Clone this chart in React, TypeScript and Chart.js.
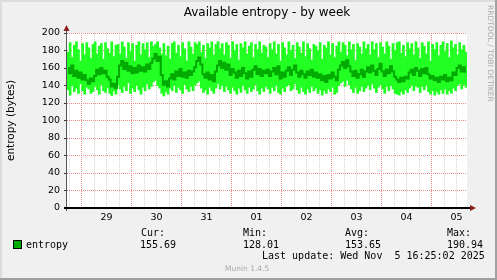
import React, { useEffect, useRef } from 'react';
import { Chart, registerables } from 'chart.js';

Chart.register(...registerables);

// ---- data ----
const titleText = 'Available entropy - by week';
const yAxisTitle = 'entropy (bytes)';
const dayLabels = ['29', '30', '31', '01', '02', '03', '04', '05'];
const startHour = -7; // hours relative to 29 Oct 00:00
const endHour = 185;
const sampleStepHours = 1;

const avgValues = [
  160, 154, 163, 151, 157, 149, 155, 147, 152, 146, 142, 148, 145, 151, 158, 153, 160, 154, 157, 150, 147, 139, 142, 137,
  150, 163, 168, 159, 166, 157, 162, 154, 160, 155, 163, 157, 161, 156, 164, 159, 166, 171, 176, 168, 173, 152, 141, 145,
  139, 148, 153, 147, 156, 151, 159, 150, 155, 149, 157, 152, 156, 161, 168, 172, 164, 153, 149, 155, 147, 152, 145, 156,
  163, 168, 160, 166, 158, 164, 152, 159, 155, 149, 157, 151, 160, 154, 148, 156, 150, 158, 162, 153, 159, 151, 157, 154,
  158, 151, 156, 160, 153, 162, 148, 155, 150, 157, 161, 152, 158, 163, 155, 150, 157, 153, 149, 156, 152, 158, 150, 155,
  149, 153, 146, 151, 144, 152, 148, 155, 150, 146, 158, 163, 167, 160, 169, 162, 156, 151, 157, 149, 153, 158, 150, 156,
  161, 155, 163, 157, 152, 159, 165, 156, 151, 158, 154, 162, 156, 150, 147, 144, 149, 145, 150, 148, 155, 158, 152, 160,
  157, 151, 159, 154, 160, 153, 148, 151, 146, 149, 144, 150, 147, 152, 145, 149, 146, 155, 152, 160, 163, 156, 161, 155.69,
];
const maxValues = [
  178, 189, 172, 186, 190, 181, 168, 188, 175, 189, 183, 171, 187, 190, 176, 185, 188, 170, 189, 182, 177, 190, 173, 186,
  187, 176, 190, 184, 171, 189, 179, 188, 168, 186, 190, 175, 188, 181, 189, 172, 190, 185, 187, 190, 183, 176, 188, 174,
  185, 170, 188, 190, 177, 186, 173, 189, 182, 168, 190, 184, 176, 189, 187, 190, 178, 186, 171, 188, 183, 190, 175, 187,
  190, 182, 188, 175, 189, 186, 171, 190, 180, 187, 169, 188, 183, 190, 176, 185, 189, 172, 187, 181, 190, 177, 186, 184,
  172, 188, 181, 190, 176, 187, 168, 189, 183, 175, 190, 180, 186, 171, 189, 184, 177, 190, 173, 188, 182, 169, 187, 185,
  180, 189, 170, 186, 183, 190, 175, 188, 172, 185, 190, 178, 189, 186, 174, 190, 181, 187, 169, 188, 184, 176, 190, 182,
  187, 175, 190, 181, 188, 172, 189, 184, 176, 190, 185, 170, 188, 180, 189, 190, 177, 186, 173, 189, 182, 188, 175, 190,
  183, 171, 189, 185, 176, 190, 168, 187, 181, 189, 174, 186, 190, 179, 188, 172, 190.94, 183, 187, 175, 189, 181, 186, 178,
];
const minValues = [
  135, 129, 140, 133, 137, 131, 142, 134, 130, 138, 136, 131, 133, 139, 135, 130, 141, 134, 132, 137, 131, 128.5, 134, 130,
  141, 136, 132, 139, 134, 143, 131, 137, 133, 140, 135, 130, 138, 134, 142, 136, 139, 144, 146, 140, 137, 131, 128.01, 133,
  130, 137, 134, 140, 132, 138, 135, 131, 141, 136, 133, 139, 134, 140, 143, 145, 137, 132, 135, 130, 138, 134, 131, 137,
  142, 136, 140, 133, 139, 135, 131, 138, 134, 130, 137, 132, 140, 135, 131, 138, 133, 136, 141, 134, 130, 137, 133, 139,
  136, 131, 138, 134, 140, 132, 130, 137, 133, 139, 141, 134, 136, 142, 135, 131, 138, 133, 130, 136, 132, 139, 134, 137,
  131, 135, 129, 134, 131, 136, 133, 138, 130, 132, 140, 143, 145, 139, 146, 141, 136, 132, 138, 131, 134, 139, 133, 137,
  140, 135, 142, 137, 132, 138, 141, 136, 131, 139, 134, 140, 136, 131, 130, 129, 133, 130, 135, 132, 137, 140, 134, 139,
  138, 132, 139, 135, 140, 133, 130, 134, 129, 133, 130, 135, 131, 136, 130, 134, 131, 137, 134, 140, 142, 136, 141, 138,
];

const seriesName = 'entropy';
const statLabels = ['Cur:', 'Min:', 'Avg:', 'Max:'];
const statValues = ['155.69', '128.01', '153.65', '190.94'];
const lastUpdate = 'Last update: Wed Nov  5 16:25:02 2025';
const footerText = 'Munin 1.4.5';
const sideText = 'RRDTOOL / TOBI OETIKER';

const W = 497;
const H = 280;
const PLOT_LEFT = 67;
const PLOT_TOP = 33;
const PLOT_RIGHT = 467;
const PLOT_BOTTOM = 208;

const RED_GRID = 'rgb(235,140,140)';
const GRAY_GRID = '#d2d2d2';

const framePlugin = {
  id: 'muninFrame',
  beforeDraw(chart: any) {
    const { ctx, width, height, chartArea: a } = chart;
    ctx.save();
    ctx.fillStyle = '#f0f0f0';
    ctx.fillRect(0, 0, width, height);
    ctx.fillStyle = '#dcdcdc';
    ctx.fillRect(0, 0, width, 2);
    ctx.fillRect(0, 0, 2, height);
    ctx.fillStyle = '#a0a0a0';
    ctx.fillRect(0, height - 2, width, 2);
    ctx.fillRect(width - 2, 0, 2, height);
    ctx.fillStyle = '#ffffff';
    ctx.fillRect(a.left, a.top, a.right - a.left, a.bottom - a.top);
    ctx.restore();
  },
  afterDraw(chart: any) {
    const { ctx, chartArea: a } = chart;
    ctx.save();
    ctx.setLineDash([]);
    // axes
    ctx.strokeStyle = '#555';
    ctx.lineWidth = 1;
    ctx.beginPath();
    ctx.moveTo(a.left - 0.5, a.bottom + 3);
    ctx.lineTo(a.left - 0.5, a.top - 4);
    ctx.stroke();
    ctx.beginPath();
    ctx.moveTo(a.left - 3, a.bottom);
    ctx.lineTo(a.right + 3, a.bottom);
    ctx.strokeStyle = '#000';
    ctx.lineWidth = 2;
    ctx.stroke();
    // arrows
    ctx.fillStyle = '#8b1c1c';
    ctx.beginPath();
    ctx.moveTo(a.left - 0.5, a.top - 8);
    ctx.lineTo(a.left - 3.5, a.top - 2);
    ctx.lineTo(a.left + 2.5, a.top - 2);
    ctx.closePath();
    ctx.fill();
    ctx.beginPath();
    ctx.moveTo(a.right + 9, a.bottom);
    ctx.lineTo(a.right + 3, a.bottom - 3);
    ctx.lineTo(a.right + 3, a.bottom + 3);
    ctx.closePath();
    ctx.fill();
    ctx.restore();
  },
};

export default function App() {
  const canvasRef = useRef<HTMLCanvasElement | null>(null);

  useEffect(() => {
    const canvas = canvasRef.current;
    if (!canvas) return;
    const times = avgValues.map((_, i) => startHour + sampleStepHours * i + sampleStepHours / 2);
    const chart = new Chart(canvas, {
      type: 'bar',
      data: {
        datasets: [
          {
            type: 'line',
            label: seriesName,
            data: times.map((t, i) => ({ x: t, y: avgValues[i] })),
            borderColor: '#00a800',
            borderWidth: 2,
            pointRadius: 0,
            stepped: 'middle',
            fill: false,
            order: 1,
          } as any,
          {
            type: 'bar',
            label: 'range',
            data: times.map((t, i) => ({ x: t, y: [minValues[i], maxValues[i]] })),
            backgroundColor: '#22ff22',
            borderWidth: 0,
            barPercentage: 1,
            categoryPercentage: 1,
            order: 2,
          } as any,
        ],
      },
      options: {
        responsive: false,
        animation: false,
        devicePixelRatio: 1,
        layout: {
          padding: {
            left: 0,
            top: PLOT_TOP,
            right: W - PLOT_RIGHT,
            bottom: H - PLOT_BOTTOM - 20,
          },
        },
        plugins: {
          legend: { display: false },
          tooltip: { enabled: false },
          title: { display: false },
        },
        scales: {
          x: {
            type: 'linear',
            min: startHour,
            max: endHour,
            offset: false,
            afterFit: (scale: any) => {
              scale.height = 20;
            },
            afterBuildTicks: (scale: any) => {
              const ticks: any[] = [];
              for (let v = Math.ceil(startHour / 6) * 6; v < endHour; v += 6) {
                if (v > startHour) ticks.push({ value: v });
              }
              scale.ticks = ticks;
            },
            grid: {
              offset: false,
              color: (c: any) => (c.tick && c.tick.value % 24 === 0 ? RED_GRID : GRAY_GRID),
              tickColor: 'rgba(0,0,0,0)',
              tickLength: 2,
              lineWidth: 1,
            },
            border: { display: false, dash: [1, 1] },
            ticks: {
              autoSkip: false,
              maxRotation: 0,
              padding: 2,
              color: '#000',
              font: { family: 'DejaVu Sans', size: 9.5 },
              callback: (v: any) => {
                const n = Number(v);
                if (((n % 24) + 24) % 24 === 12) {
                  const d = Math.floor(n / 24);
                  return dayLabels[d] ?? '';
                }
                return '';
              },
            },
          } as any,
          y: {
            type: 'linear',
            min: 0,
            max: 200,
            afterFit: (scale: any) => {
              scale.width = PLOT_LEFT;
            },
            grid: {
              color: (c: any) =>
                c.tick && c.tick.value === 0 ? 'rgba(0,0,0,0)' : c.tick && c.tick.value % 20 === 0 ? RED_GRID : GRAY_GRID,
              tickColor: (c: any) => (c.tick && c.tick.value % 20 === 0 ? '#333' : 'rgba(0,0,0,0)'),
              tickLength: 3,
              lineWidth: 1,
              tickBorderDash: [],
            },
            border: { display: false, dash: [1, 1] },
            ticks: {
              stepSize: 10,
              padding: 4,
              color: '#000',
              font: { family: 'DejaVu Sans', size: 9.5 },
              callback: (v: any) => (Number(v) % 20 === 0 ? String(v) : ''),
            },
            title: {
              display: true,
              text: yAxisTitle,
              color: '#000',
              font: { family: 'DejaVu Sans', size: 10.5 },
              padding: { top: 5, bottom: 0 },
            },
          } as any,
        },
      },
      plugins: [framePlugin],
    } as any);

    return () => chart.destroy();
  }, []);

  const mono: React.CSSProperties = {
    position: 'absolute',
    fontFamily: '"DejaVu Sans Mono", monospace',
    fontSize: 10,
    lineHeight: '12px',
    color: '#000',
    whiteSpace: 'pre',
  };
  const statX = [141, 243, 345, 447];
  const valX = [140, 243, 345, 447];

  return (
    <div style={{ position: 'fixed', left: 0, top: 0, width: W, height: H, overflow: 'hidden' }}>
      <canvas ref={canvasRef} width={W} height={H} style={{ width: W, height: H, display: 'block' }} />
      <div
        style={{
          position: 'absolute',
          left: PLOT_LEFT,
          width: PLOT_RIGHT - PLOT_LEFT,
          top: 4,
          textAlign: 'center',
          fontFamily: '"DejaVu Sans", sans-serif',
          fontSize: 12,
          lineHeight: '16px',
          color: '#000',
        }}
      >
        {titleText}
      </div>
      <div
        style={{
          position: 'absolute',
          left: 485,
          top: 5,
          writingMode: 'vertical-rl',
          fontFamily: '"DejaVu Sans", sans-serif',
          fontSize: 7.5,
          lineHeight: '10px',
          color: '#aaaaaa',
          whiteSpace: 'pre',
        }}
      >
        {sideText}
      </div>
      {statLabels.map((s, i) => (
        <div key={s} style={{ ...mono, left: statX[i], top: 227 }}>
          {s}
        </div>
      ))}
      <div
        style={{
          position: 'absolute',
          left: 13,
          top: 240,
          width: 7,
          height: 7,
          background: '#00aa00',
          border: '1px solid #000',
        }}
      />
      <div style={{ ...mono, left: 26, top: 238.5 }}>{seriesName}</div>
      {statValues.map((s, i) => (
        <div key={i} style={{ ...mono, left: valX[i], top: 238.5 }}>
          {s}
        </div>
      ))}
      <div style={{ ...mono, left: 262, top: 250 }}>{lastUpdate}</div>
      <div
        style={{
          position: 'absolute',
          left: 225,
          top: 264,
          fontFamily: '"DejaVu Sans", sans-serif',
          fontSize: 7.5,
          lineHeight: '10px',
          color: '#aaaaaa',
          whiteSpace: 'pre',
        }}
      >
        {footerText}
      </div>
    </div>
  );
}
